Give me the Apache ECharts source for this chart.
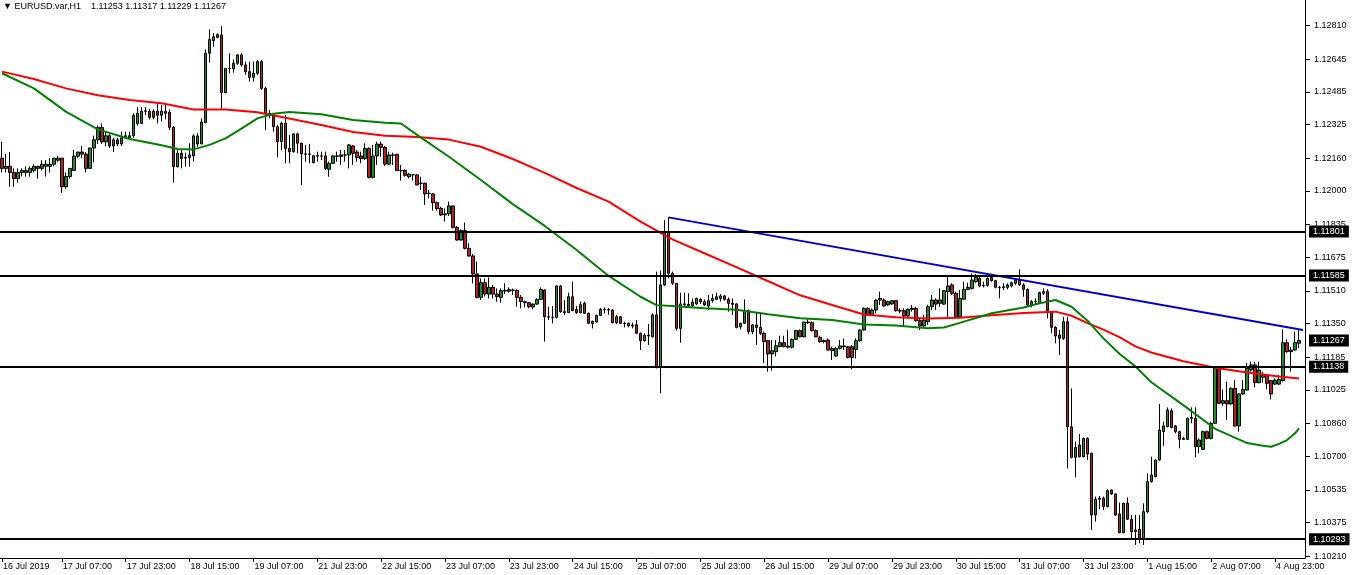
<!DOCTYPE html>
<html>
<head>
<meta charset="utf-8">
<script src="https://cdn.jsdelivr.net/npm/echarts/dist/echarts.min.js"></script>
<style>
html,body{margin:0;padding:0;background:#fff;}
#chart{width:1354px;height:575px;}
</style>
</head>
<body>
<div id="chart"></div>
<script>
// ---- DATA ----
const titleText = '\u25BC EURUSD.var,H1    1.11253 1.11317 1.11229 1.11267';

// x-axis tick labels (every 16 hourly candles)
const tickLabels = ['16 Jul 2019','17 Jul 07:00','17 Jul 23:00','18 Jul 15:00','19 Jul 07:00',
  '21 Jul 23:00','22 Jul 15:00','23 Jul 07:00','23 Jul 23:00','24 Jul 15:00','25 Jul 07:00',
  '25 Jul 23:00','26 Jul 15:00','29 Jul 07:00','29 Jul 23:00','30 Jul 15:00','31 Jul 07:00',
  '31 Jul 23:00','1 Aug 15:00','2 Aug 07:00','4 Aug 23:00'];

// y-axis tick labels
const yTicks = [1.12810,1.12645,1.12485,1.12325,1.12160,1.12000,1.11835,1.11675,1.11510,
  1.11350,1.11185,1.11025,1.10860,1.10700,1.10535,1.10375,1.10210];

// horizontal levels and last price
const levels = [1.11801, 1.11585, 1.11138, 1.10293];
const lastPrice = 1.11267;

// trend line (candle index, price)
const trendIdx = [167, 326];
const trendVal = [1.11870, 1.11318];

// hourly candles [open, high, low, close]
const candles = [
[1.1216,1.1224,1.1209,1.1211],[1.1211,1.1218,1.1209,1.1212],[1.1212,1.1219,1.1202,1.1209],[1.1209,1.1211,1.1202,1.1206],
[1.1206,1.1211,1.1204,1.1209],[1.1209,1.1211,1.1207,1.1210],[1.1209,1.1212,1.1207,1.1210],[1.1209,1.1212,1.1207,1.1211],
[1.1210,1.1213,1.1209,1.1212],[1.1212,1.1212,1.1206,1.1211],[1.1211,1.1215,1.1210,1.1213],[1.1212,1.1215,1.1207,1.1213],
[1.1212,1.1216,1.1209,1.1213],[1.1213,1.1216,1.1212,1.1216],[1.1215,1.1217,1.1214,1.1216],[1.1216,1.1216,1.1199,1.1202],
[1.1202,1.1209,1.1201,1.1207],[1.1207,1.1211,1.1206,1.1211],[1.1210,1.1220,1.1210,1.1217],[1.1217,1.1219,1.1216,1.1219],
[1.1219,1.1222,1.1216,1.1218],[1.1218,1.1219,1.1209,1.1211],[1.1211,1.1221,1.1211,1.1221],[1.1221,1.1227,1.1214,1.1225],
[1.1225,1.1232,1.1223,1.1231],[1.1231,1.1233,1.1223,1.1224],[1.1224,1.1229,1.1222,1.1227],[1.1227,1.1228,1.1221,1.1222],
[1.1222,1.1226,1.1219,1.1225],[1.1225,1.1226,1.1222,1.1223],[1.1223,1.1229,1.1222,1.1226],[1.1226,1.1229,1.1226,1.1227],
[1.1226,1.1229,1.1225,1.1227],[1.1227,1.1238,1.1226,1.1237],[1.1233,1.1241,1.1232,1.1238],[1.1233,1.1241,1.1233,1.1239],
[1.1239,1.1241,1.1237,1.12392],[1.1239,1.1240,1.1235,1.1236],[1.1236,1.1240,1.1235,1.1239],[1.1239,1.1243,1.1233,1.1237],
[1.1237,1.1242,1.1234,1.1239],[1.1238,1.1242,1.1235,1.1239],
[1.12386,1.12399,1.12298,1.12311],[1.12311,1.12318,1.12040,1.12118],[1.12118,1.12200,1.12115,1.12184],[1.12184,1.12200,1.12110,1.12158],
[1.12160,1.12187,1.12118,1.12163],[1.12163,1.12233,1.12118,1.12176],[1.12171,1.12277,1.12143,1.12269],[1.12230,1.12282,1.12216,1.12269],
[1.12230,1.12355,1.12228,1.12337],[1.12334,1.12693,1.12331,1.12674],[1.12674,1.12791,1.12628,1.12742],[1.12736,1.12772,1.12706,1.12755],
[1.12752,1.12772,1.12747,1.12765],[1.12764,1.12808,1.12396,1.12481],[1.12481,1.12600,1.12478,1.12600],[1.12600,1.12674,1.12576,1.12598],
[1.12598,1.12644,1.12579,1.12625],[1.12625,1.12669,1.12617,1.12666],[1.12666,1.12674,1.12608,1.12617],[1.12617,1.12633,1.12568,1.12584],
[1.12584,1.12633,1.12535,1.12556],[1.12556,1.12633,1.12535,1.12576],[1.12576,1.12641,1.12568,1.12633],[1.12633,1.12641,1.12494,1.12502],
[1.12502,1.12510,1.12298,1.12380],[1.12380,1.12396,1.12355,1.12372],[1.12372,1.12380,1.12290,1.12314],[1.12314,1.12323,1.12164,1.12241],
[1.12241,1.12339,1.12200,1.12331],[1.12331,1.12372,1.12135,1.12208],[1.12208,1.12274,1.12135,1.12192],[1.12192,1.12282,1.12187,1.12279],
[1.12279,1.12285,1.12184,1.12233],[1.12233,1.12236,1.12029,1.12181],[1.12181,1.12225,1.12143,1.12179],[1.12179,1.12230,1.12135,1.12181],
[1.12138,1.12176,1.12135,1.12172],[1.12172,1.12192,1.12143,1.12170],[1.12170,1.12192,1.12151,1.12171],[1.12171,1.12192,1.12102,1.12110],
[1.12106,1.12143,1.12069,1.12135],[1.12135,1.12176,1.12132,1.12171],[1.12171,1.12192,1.12143,1.12169],[1.12168,1.12200,1.12127,1.12176],
[1.12176,1.12200,1.12143,1.12175],[1.12176,1.12229,1.12110,1.12225],[1.12220,1.12225,1.12127,1.12184],[1.12190,1.12200,1.12143,1.12163],
[1.12171,1.12192,1.12135,1.12158],[1.12158,1.12233,1.12151,1.12208],[1.12208,1.12213,1.12061,1.12066],[1.12066,1.12225,1.12061,1.12171],
[1.12171,1.12241,1.12127,1.12229],[1.12229,1.12241,1.12167,1.12213],[1.12213,1.12220,1.12122,1.12131],[1.12131,1.12192,1.12127,1.12176],
[1.12176,1.12187,1.12127,1.12174],[1.12179,1.12181,1.12099,1.12099],[1.12099,1.12127,1.12050,1.12100],[1.12100,1.12105,1.12069,1.12076],
[1.12069,1.12086,1.12060,1.12082],[1.12079,1.12082,1.12050,1.12079],[1.12078,1.12081,1.12029,1.12029],[1.12037,1.12069,1.12004,1.12037],
[1.12037,1.12040,1.11931,1.11985],[1.11988,1.12004,1.11963,1.11987],[1.11985,1.11988,1.11903,1.11942],[1.11942,1.11947,1.11903,1.11913],
[1.11914,1.11922,1.11877,1.11882],[1.11882,1.11914,1.11849,1.11887],[1.11887,1.11947,1.11877,1.11926],[1.11926,1.11926,1.11816,1.11821],
[1.11821,1.11828,1.11756,1.11759],[1.11759,1.11811,1.11756,1.11805],[1.11805,1.11844,1.11713,1.11718],[1.11718,1.11743,1.11677,1.11681],
[1.11681,1.11690,1.11547,1.11593],[1.11593,1.11653,1.11473,1.11478],[1.11478,1.11571,1.11465,1.11550],[1.11550,1.11571,1.11482,1.11495],
[1.11494,1.11576,1.11473,1.11527],[1.11527,1.11539,1.11473,1.11494],[1.11494,1.11522,1.11457,1.11481],[1.11478,1.11522,1.11452,1.11511],
[1.11511,1.11547,1.11494,1.11509],[1.11508,1.11527,1.11501,1.11516],[1.11514,1.11521,1.11490,1.11512],[1.11512,1.11517,1.11432,1.11478],
[1.11478,1.11490,1.11424,1.11457],[1.11457,1.11462,1.11429,1.11452],[1.11452,1.11455,1.11424,1.11432],[1.11431,1.11449,1.11419,1.11445],
[1.11445,1.11473,1.11442,1.11468],[1.11468,1.11527,1.11465,1.11517],[1.11514,1.11517,1.11261,1.11383],[1.11383,1.11432,1.11367,1.11381],
[1.11381,1.11436,1.11351,1.11380],[1.11380,1.11537,1.11375,1.11534],[1.11534,1.11539,1.11403,1.11408],[1.11408,1.11465,1.11392,1.11403],
[1.11403,1.11501,1.11403,1.11481],[1.11481,1.11555,1.11410,1.11413],[1.11419,1.11436,1.11397,1.11403],[1.11403,1.11457,1.11400,1.11442],
[1.11449,1.11457,1.11397,1.11400],[1.11400,1.11403,1.11347,1.11351],[1.11361,1.11364,1.11326,1.11349],[1.11357,1.11393,1.11354,1.11390],
[1.11390,1.11426,1.11387,1.11419],[1.11419,1.11429,1.11400,1.11418],[1.11418,1.11426,1.11392,1.11416],[1.11416,1.11419,1.11351,1.11354],
[1.11354,1.11392,1.11347,1.11383],[1.11383,1.11387,1.11347,1.11351],[1.11351,1.11359,1.11331,1.11350],[1.11351,1.11354,1.11331,1.11338],
[1.11338,1.11354,1.11326,1.11343],[1.11344,1.11367,1.11298,1.11302],[1.11302,1.11305,1.11220,1.11266],[1.11266,1.11302,1.11261,1.11292],
[1.11292,1.11348,1.11245,1.11289],[1.11285,1.11400,1.11282,1.11392],[1.11392,1.11604,1.11130,1.11138],[1.11138,1.11609,1.11008,1.11539],
[1.11539,1.11857,1.11534,1.11800],[1.11800,1.11870,1.11571,1.11596],[1.11596,1.11604,1.11539,1.11547],[1.11547,1.11547,1.11315,1.11326],
[1.11326,1.11501,1.11256,1.11446],[1.11446,1.11501,1.11432,1.11443],[1.11436,1.11498,1.11429,1.11444],[1.11437,1.11473,1.11432,1.11455],
[1.11446,1.11477,1.11441,1.11472],[1.11468,1.11473,1.11446,1.11457],[1.11457,1.11468,1.11436,1.11441],[1.11436,1.11490,1.11416,1.11462],
[1.11462,1.11494,1.11452,1.11473],[1.11468,1.11501,1.11465,1.11481],[1.11473,1.11494,1.11457,1.11485],[1.11485,1.11490,1.11462,1.11468],
[1.11468,1.11478,1.11408,1.11449],[1.11449,1.11473,1.11392,1.11444],[1.11446,1.11449,1.11326,1.11331],[1.11334,1.11354,1.11321,1.11351],
[1.11351,1.11468,1.11347,1.11413],[1.11413,1.11419,1.11298,1.11310],[1.11310,1.11348,1.11298,1.11343],[1.11343,1.11403,1.11245,1.11331],
[1.11331,1.11403,1.11294,1.11302],[1.11302,1.11310,1.11155,1.11261],[1.11266,1.11269,1.11114,1.11201],[1.11201,1.11269,1.11119,1.11217],
[1.11212,1.11269,1.11188,1.11241],[1.11237,1.11290,1.11233,1.11256],[1.11256,1.11290,1.11233,1.11237],[1.11239,1.11318,1.11228,1.11234],
[1.11234,1.11277,1.11228,1.11272],[1.11272,1.11318,1.11269,1.11315],[1.11315,1.11321,1.11282,1.11285],[1.11285,1.11359,1.11282,1.11357],
[1.11357,1.11370,1.11348,1.11354],[1.11354,1.11360,1.11310,1.11315],[1.11315,1.11321,1.11282,1.11285],[1.11282,1.11290,1.11256,1.11261],
[1.11261,1.11272,1.11253,1.11266],[1.11269,1.11277,1.11217,1.11220],[1.11228,1.11236,1.11171,1.11217],[1.11191,1.11236,1.11187,1.11228],
[1.11228,1.11269,1.11223,1.11240],[1.11240,1.11277,1.11220,1.11236],[1.11236,1.11240,1.11179,1.11184],[1.11236,1.11245,1.11125,1.11184],
[1.11223,1.11277,1.11179,1.11266],[1.11266,1.11321,1.11261,1.11318],[1.11318,1.11429,1.11315,1.11424],[1.11424,1.11429,1.11387,1.11392],
[1.11392,1.11423,1.11387,1.11416],[1.11416,1.11468,1.11400,1.11465],[1.11465,1.11506,1.11441,1.11473],[1.11465,1.11473,1.11432,1.11436],
[1.11441,1.11462,1.11436,1.11457],[1.11446,1.11465,1.11441,1.11462],[1.11462,1.11465,1.11408,1.11413],[1.11413,1.11424,1.11400,1.11411],
[1.11413,1.11424,1.11334,1.11387],[1.11387,1.11424,1.11375,1.11419],[1.11419,1.11441,1.11408,1.11424],[1.11424,1.11432,1.11359,1.11364],
[1.11364,1.11375,1.11318,1.11338],[1.11338,1.11392,1.11331,1.11367],[1.11359,1.11441,1.11343,1.11432],[1.11432,1.11490,1.11416,1.11465],
[1.11465,1.11473,1.11416,1.11445],[1.11449,1.11522,1.11432,1.11465],[1.11445,1.11514,1.11441,1.11511],[1.11506,1.11588,1.11383,1.11534],
[1.11539,1.11547,1.11490,1.11498],[1.11498,1.11506,1.11380,1.11383],[1.11383,1.11514,1.11375,1.11473],[1.11469,1.11555,1.11465,1.11517],
[1.11517,1.11550,1.11514,1.11527],[1.11522,1.11596,1.11517,1.11563],[1.11555,1.11592,1.11550,1.11579],[1.11571,1.11579,1.11527,1.11534],
[1.11534,1.11555,1.11527,1.11537],[1.11537,1.11576,1.11530,1.11571],[1.11576,1.11583,1.11555,1.11560],[1.11560,1.11563,1.11522,1.11527],
[1.11527,1.11534,1.11473,1.11525],[1.11525,1.11547,1.11514,1.11530],[1.11527,1.11547,1.11517,1.11539],[1.11534,1.11555,1.11527,1.11550],
[1.11547,1.11571,1.11539,1.11563],[1.11563,1.11615,1.11534,1.11539],[1.11539,1.11547,1.11481,1.11517],[1.11517,1.11522,1.11432,1.11441],
[1.11441,1.11465,1.11429,1.11457],[1.11457,1.11473,1.11445,1.11458],[1.11452,1.11506,1.11449,1.11501],[1.11498,1.11522,1.11490,1.11506],
[1.11506,1.11517,1.11375,1.11413],[1.11403,1.11408,1.11302,1.11331],[1.11331,1.11338,1.11253,1.11289],[1.11294,1.11318,1.11196,1.11277],
[1.11277,1.11383,1.11269,1.11359],[1.11359,1.11383,1.10640,1.10844],[1.10844,1.11032,1.10689,1.10694],[1.10694,1.10771,1.10596,1.10743],
[1.10755,1.10809,1.10694,1.10697],[1.10697,1.10791,1.10694,1.10787],[1.10787,1.10792,1.10681,1.10711],[1.10714,1.10717,1.10338,1.10412],
[1.10412,1.10502,1.10379,1.10489],[1.10489,1.10505,1.10440,1.10494],[1.10494,1.10502,1.10436,1.10453],[1.10453,1.10537,1.10449,1.10531],
[1.10534,1.10537,1.10510,1.10515],[1.10515,1.10518,1.10407,1.10412],[1.10417,1.10472,1.10322,1.10325],[1.10325,1.10472,1.10322,1.10469],
[1.10469,1.10498,1.10387,1.10391],[1.10391,1.10412,1.10289,1.10330],[1.10330,1.10412,1.10265,1.10338],[1.10341,1.10412,1.10273,1.10292],
[1.10292,1.10469,1.10265,1.10428],[1.10428,1.10616,1.10420,1.10575],[1.10575,1.10697,1.10570,1.10608],[1.10600,1.10684,1.10596,1.10681],
[1.10681,1.10956,1.10678,1.10828],[1.10820,1.10869,1.10750,1.10848],[1.10845,1.10939,1.10841,1.10926],[1.10923,1.10934,1.10836,1.10841],
[1.10848,1.10853,1.10812,1.10820],[1.10820,1.10825,1.10738,1.10782],[1.10782,1.10795,1.10779,1.10787],[1.10782,1.10890,1.10779,1.10885],
[1.10885,1.10939,1.10861,1.10890],[1.10885,1.10939,1.10694,1.10746],[1.10746,1.10787,1.10714,1.10779],[1.10733,1.10825,1.10730,1.10820],
[1.10820,1.10825,1.10782,1.10787],[1.10787,1.10869,1.10782,1.10861],[1.10861,1.11138,1.10857,1.11130],[1.11130,1.11138,1.10956,1.10959],
[1.10959,1.11027,1.10946,1.10972],[1.10972,1.11065,1.10877,1.10956],[1.10956,1.11037,1.10951,1.11032],[1.11032,1.11073,1.10845,1.10848],
[1.10848,1.11008,1.10820,1.11005],[1.11005,1.11073,1.11000,1.11027],[1.11024,1.11158,1.11021,1.11130],[1.11122,1.11163,1.11114,1.11147],
[1.11147,1.11163,1.11037,1.11060],[1.11060,1.11163,1.11057,1.11122],[1.11086,1.11114,1.11060,1.11097],[1.11097,1.11102,1.11027,1.11057],
[1.11070,1.11073,1.10978,1.11005],[1.11053,1.11081,1.11049,1.11073],[1.11053,1.11098,1.11049,1.11076],[1.11070,1.11321,1.11065,1.11256],
[1.11256,1.11272,1.11207,1.11212],[1.11212,1.11236,1.11114,1.11220],[1.11220,1.11310,1.11217,1.11256],[1.11253,1.11317,1.11229,1.11267]
];

// red moving average (candle index, value)
const redIdx = [0,8,16,24,32,40,48,56,64,72,80,88,96,104,112,120,128,136,144,152,160,168,176,184,192,200,208,216,224,232,240,248,256,264,268,272,276,280,284,288,296,304,312,320,325];
const redVal = [1.12584,1.12548,1.12502,1.12468,1.12445,1.12429,1.12399,1.12398,1.12385,1.12354,1.12323,1.12288,1.12270,1.12264,1.12251,1.12216,
  1.12156,1.12088,1.12014,1.11947,1.11849,1.11762,1.11694,1.11626,1.11557,1.11488,1.11441,1.11394,1.11380,1.11374,1.11378,1.11390,1.11402,1.11408,
  1.11388,1.11352,1.11320,1.11283,1.11238,1.11208,1.11165,1.11133,1.11110,1.11090,1.11080];

// green moving average (candle index, value)
const greenIdx = [0,8,16,24,32,40,44,48,52,56,60,64,68,72,80,88,96,100,104,112,120,128,136,144,152,160,164,168,176,184,192,200,208,216,224,232,236,240,248,256,260,264,268,272,276,280,284,288,296,304,312,316,318,320,322,324,325];
const greenVal = [1.12576,1.12502,1.12388,1.12301,1.12254,1.12223,1.12205,1.12203,1.12225,1.12257,1.12305,1.12355,1.12378,1.12386,1.12375,1.12347,
  1.12334,1.12330,1.12274,1.12167,1.12053,1.11935,1.11828,1.11710,1.11583,1.11481,1.11440,1.11436,1.11425,1.11417,1.11395,1.11376,1.11367,1.11345,
  1.11340,1.11327,1.11330,1.11353,1.11400,1.11428,1.11449,1.11465,1.11432,1.11364,1.11277,1.11202,1.11140,1.11062,1.10950,1.10834,1.10764,1.10751,
  1.10746,1.10760,1.10779,1.10812,1.10836];

// ---- CHART ----
const nCat = candles.length + 1;
const categories = Array.from({length: nCat}, (_, i) => String(i));
function labelFor(i) {
  if (i === 0) return tickLabels[0];
  if ((i + 1) % 16 === 0) { const k = (i + 1) / 16; return k < tickLabels.length ? tickLabels[k] : null; }
  return null;
}
const showTick = (i) => labelFor(i) !== null;

const font = 'Liberation Sans';
const boxLabel = {
  show: true, position: 'end', distance: 4, formatter: (p) => Number(p.value).toFixed(5),
  backgroundColor: '#000', color: '#fff', padding: [2, 4, 1, 4],
  fontFamily: font, fontSize: 9
};
const chart = echarts.init(document.getElementById('chart'), null, {renderer: 'canvas'});
chart.setOption({
  animation: false,
  backgroundColor: '#ffffff',
  title: {
    text: titleText, left: 3, top: 2, padding: 0,
    textStyle: {fontFamily: font, fontSize: 9, fontWeight: 'normal', color: '#000'}
  },
  grid: {left: -3, right: 49, top: 0, bottom: 17, containLabel: false},
  xAxis: {
    type: 'category', data: categories, boundaryGap: true,
    axisLine: {show: true, lineStyle: {color: '#000', width: 1}},
    axisTick: {show: true, alignWithLabel: true, interval: (i) => showTick(i), length: 4, lineStyle: {color: '#000'}},
    axisLabel: {
      show: true, interval: (i) => showTick(i), formatter: (v) => labelFor(Number(v)) || '',
      align: 'left', padding: [0, 0, 0, 1], margin: 4,
      fontFamily: font, fontSize: 9, color: '#000'
    },
    splitLine: {show: false}
  },
  yAxis: {
    type: 'value', position: 'right', min: 1.10201, max: 1.12935, scale: true,
    axisLine: {show: true, lineStyle: {color: '#000', width: 1}},
    axisTick: {show: true, length: 5, customValues: yTicks, lineStyle: {color: '#000'}},
    axisLabel: {customValues: yTicks, formatter: (v) => v.toFixed(5), margin: 9,
      fontFamily: font, fontSize: 9, color: '#000'},
    splitLine: {show: false}
  },
  series: [
    {
      type: 'candlestick',
      data: candles.map(c => [c[0], c[3], c[2], c[1]]),
      barWidth: 3,
      itemStyle: {color: '#228B22', color0: '#B22222', borderColor: '#000', borderColor0: '#000', borderWidth: 1},
      markLine: {
        silent: true, symbol: ['none', 'none'], animation: false, precision: 5,
        data: levels.map(v => ({yAxis: v, lineStyle: {color: '#000', width: 2, type: 'solid'}})),
        label: boxLabel
      }
    },
    {
      type: 'line', data: redIdx.map((x, k) => [x, redVal[k]]), showSymbol: false, smooth: false,
      lineStyle: {color: '#ff0000', width: 2}, z: 3
    },
    {
      type: 'line', data: greenIdx.map((x, k) => [x, greenVal[k]]), showSymbol: false, smooth: false,
      lineStyle: {color: '#008000', width: 2}, z: 3
    },
    {
      type: 'line', data: trendIdx.map((x, k) => [x, trendVal[k]]), showSymbol: false,
      lineStyle: {color: '#0000cd', width: 2}, z: 4,
      markLine: {
        silent: true, symbol: ['none', 'none'], animation: false, precision: 5,
        data: [{yAxis: lastPrice}],
        lineStyle: {color: 'rgba(0,0,0,0)', width: 1, type: 'solid'},
        label: boxLabel
      }
    }
  ]
});
</script>
</body>
</html>
